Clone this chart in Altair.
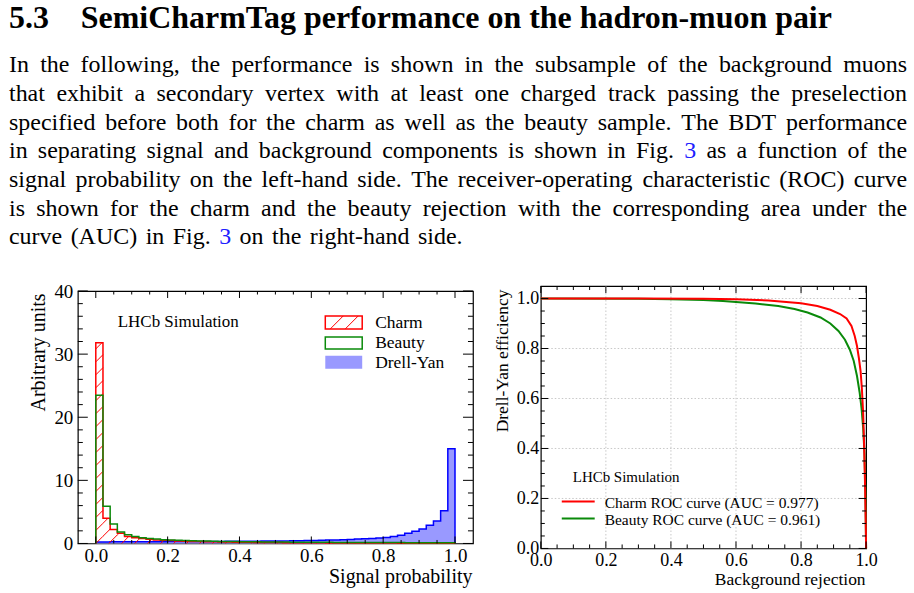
import math
import altair as alt
import pandas as pd

FONT = "Liberation Serif"

# ---------------- page text ----------------
HEADING_NUMBER = "5.3"
HEADING_TITLE = "SemiCharmTag performance on the hadron-muon pair"
BODY_LINES = [
    "In the following, the performance is shown in the subsample of the background muons",
    "that exhibit a secondary vertex with at least one charged track passing the preselection",
    "specified before both for the charm as well as the beauty sample. The BDT performance",
    "in separating signal and background components is shown in Fig. 3 as a function of the",
    "signal probability on the left-hand side. The receiver-operating characteristic (ROC) curve",
    "is shown for the charm and the beauty rejection with the corresponding area under the",
    "curve (AUC) in Fig. 3 on the right-hand side.",
]
FIGURE_REF = "3"

# ---------------- histogram (left panel) ----------------
BIN_LOW_EDGES = [0.00, 0.02, 0.04, 0.06, 0.08, 0.10, 0.12, 0.14, 0.16, 0.18,
                 0.20, 0.22, 0.24, 0.26, 0.28, 0.30, 0.32, 0.34, 0.36, 0.38,
                 0.40, 0.42, 0.44, 0.46, 0.48, 0.50, 0.52, 0.54, 0.56, 0.58,
                 0.60, 0.62, 0.64, 0.66, 0.68, 0.70, 0.72, 0.74, 0.76, 0.78,
                 0.80, 0.82, 0.84, 0.86, 0.88, 0.90, 0.92, 0.94, 0.96, 0.98]
BIN_WIDTH = 0.02
CHARM = [31.8, 4.0, 2.2, 1.6, 1.1, 0.9, 0.8, 0.65, 0.55, 0.5,
         0.45, 0.4, 0.35, 0.32, 0.3, 0.28, 0.26, 0.24, 0.22, 0.2,
         0.19, 0.18, 0.17, 0.16, 0.15, 0.14, 0.13, 0.12, 0.12, 0.11,
         0.1, 0.1, 0.09, 0.09, 0.08, 0.08, 0.07, 0.07, 0.07, 0.06,
         0.06, 0.06, 0.05, 0.05, 0.05, 0.05, 0.05, 0.05, 0.05, 0.05]
BEAUTY = [23.5, 5.9, 3.1, 1.8, 1.4, 1.1, 0.9, 0.8, 0.7, 0.6,
          0.55, 0.5, 0.45, 0.42, 0.4, 0.38, 0.35, 0.33, 0.31, 0.3,
          0.28, 0.27, 0.26, 0.25, 0.24, 0.23, 0.22, 0.21, 0.2, 0.2,
          0.19, 0.18, 0.18, 0.17, 0.17, 0.16, 0.16, 0.15, 0.15, 0.15,
          0.14, 0.14, 0.14, 0.13, 0.13, 0.13, 0.13, 0.12, 0.12, 0.12]
DRELL_YAN = [0.25, 0.25, 0.26, 0.26, 0.27, 0.27, 0.28, 0.28, 0.29, 0.29,
             0.3, 0.3, 0.31, 0.31, 0.32, 0.32, 0.33, 0.33, 0.34, 0.35,
             0.35, 0.36, 0.37, 0.38, 0.39, 0.4, 0.41, 0.43, 0.44, 0.46,
             0.48, 0.5, 0.53, 0.56, 0.6, 0.64, 0.69, 0.74, 0.8, 0.87,
             0.95, 1.1, 1.3, 1.6, 1.95, 2.3, 2.9, 3.55, 5.2, 15.0]
HIST_LEGEND = ["Charm", "Beauty", "Drell-Yan"]

# ---------------- ROC curves (right panel) ----------------
ROC_CHARM_X = [0.0, 0.3, 0.5, 0.6, 0.7, 0.8, 0.85, 0.89, 0.92, 0.94, 0.955, 0.965,
               0.972, 0.978, 0.983, 0.987, 0.991, 0.994, 0.997, 0.999, 1.0]
ROC_CHARM_Y = [1.0, 1.0, 0.999, 0.997, 0.992, 0.981, 0.97, 0.955, 0.938, 0.92, 0.89, 0.85,
               0.81, 0.76, 0.71, 0.64, 0.54, 0.41, 0.24, 0.09, 0.0]
ROC_BEAUTY_X = [0.0, 0.3, 0.4, 0.5, 0.56, 0.66, 0.73, 0.78, 0.82, 0.86, 0.89, 0.915,
                0.935, 0.95, 0.962, 0.972, 0.98, 0.986, 0.991, 0.995, 0.998, 1.0]
ROC_BEAUTY_Y = [1.0, 0.999, 0.997, 0.994, 0.99, 0.98, 0.97, 0.958, 0.944, 0.924, 0.9, 0.87,
                0.835, 0.795, 0.75, 0.69, 0.625, 0.56, 0.48, 0.38, 0.22, 0.0]
AUC_CHARM = 0.977
AUC_BEAUTY = 0.961

# ---------------- tick values ----------------
HIST_X_LABELS = [0.0, 0.2, 0.4, 0.6, 0.8, 1.0]
HIST_X_MINOR = [0.05, 0.1, 0.15, 0.25, 0.3, 0.35, 0.45, 0.5, 0.55, 0.65, 0.7, 0.75, 0.85, 0.9, 0.95]
HIST_Y_LABELS = [0, 10, 20, 30, 40]
HIST_Y_MINOR = [2, 4, 6, 8, 12, 14, 16, 18, 22, 24, 26, 28, 32, 34, 36, 38]
ROC_X_LABELS = [0.0, 0.2, 0.4, 0.6, 0.8, 1.0]
ROC_X_MINOR = [0.05, 0.1, 0.15, 0.25, 0.3, 0.35, 0.45, 0.5, 0.55, 0.65, 0.7, 0.75, 0.85, 0.9, 0.95]
ROC_Y_LABELS = [0.0, 0.2, 0.4, 0.6, 0.8, 1.0]
ROC_Y_MINOR = [0.05, 0.1, 0.15, 0.25, 0.3, 0.35, 0.45, 0.5, 0.55, 0.65, 0.7, 0.75, 0.85, 0.9, 0.95]
ROC_GRID_X = [0.2, 0.4, 0.6, 0.8]
ROC_GRID_Y = [0.2, 0.4, 0.6, 0.8, 1.0]

# ---------------- layout / style ----------------
PAGE_W, PAGE_H = 914, 593
L_X0, L_Y0, L_W, L_H = 77, 289, 396, 253
R_X0, R_Y0, R_W, R_H = 541, 284, 326, 263
GAP = R_X0 - (L_X0 + L_W)
HX_DOMAIN = [-0.05, 1.05]
HY_DOMAIN = [0, 40]
RX_DOMAIN = [0, 1]
RY_DOMAIN = [0, 1.05]
RED, GREEN, BLUE, BLUE_FILL = "#ff0000", "#0a8a0a", "#0000ff", "#9999ff"
LINK_BLUE = "#2020ff"
TEXT_LEFT, TEXT_RIGHT = 8, 908
HEAD_BASE, HEAD_SIZE, HEAD_TITLE_X = 25, 32, 80
BODY_SIZE = 24
BODY_FIRST_BASE, BODY_LEADING = 70, 28.7
LAST_LINE_GAP = 8.5
HATCH_STEP = 13.0

# approximate Times metrics (1/1000 em) used to spread words for justification
_W = {' ': 250, '(': 333, ')': 333, ',': 250, '-': 333, '.': 250, '=': 564}
_W.update({d: 500 for d in "0123456789"})
_W.update(dict(zip("ABCDEFGHIJKLMNOPQRSTUVWXYZ",
                   [722, 667, 667, 722, 611, 556, 722, 722, 333, 389, 722, 611, 889,
                    722, 722, 556, 722, 667, 556, 611, 722, 722, 944, 722, 722, 611])))
_W.update(dict(zip("abcdefghijklmnopqrstuvwxyz",
                   [444, 500, 444, 500, 444, 333, 500, 500, 278, 278, 500, 278, 778,
                    500, 500, 500, 500, 333, 389, 278, 500, 500, 722, 500, 500, 444])))


def word_width(w, size):
    return sum(_W.get(c, 500) for c in w) * size / 1000.0


def dummy():
    return pd.DataFrame({"d": [0]})


# ---------- body text rows (positions relative to the left plot) ----------
rows = []
for li, line in enumerate(BODY_LINES):
    base = BODY_FIRST_BASE + li * BODY_LEADING
    words = line.split(" ")
    widths = [word_width(w, BODY_SIZE) for w in words]
    justify = li < len(BODY_LINES) - 1
    gap = (TEXT_RIGHT - TEXT_LEFT - sum(widths)) / (len(words) - 1) if justify else LAST_LINE_GAP
    x = TEXT_LEFT
    for k, (w, wd) in enumerate(zip(words, widths)):
        last = justify and k == len(words) - 1
        rows.append({
            "word": w,
            "px": (TEXT_RIGHT if last else x) - L_X0,
            "py": base - L_Y0,
            "col": LINK_BLUE if w == FIGURE_REF else "black",
            "anchor": "end" if last else "start",
        })
        x += wd + gap
body_df = pd.DataFrame(rows)
head_df = pd.DataFrame({
    "word": [HEADING_NUMBER, HEADING_TITLE],
    "px": [TEXT_LEFT - L_X0, HEAD_TITLE_X - L_X0],
    "py": [HEAD_BASE - L_Y0, HEAD_BASE - L_Y0],
    "col": ["black", "black"],
})


def text_layer(df, align, size, weight="normal"):
    return alt.Chart(df).mark_text(align=align, baseline="alphabetic", font=FONT,
                                   fontSize=size, fontWeight=weight).encode(
        x=alt.X("px:Q", scale=None, axis=None),
        y=alt.Y("py:Q", scale=None, axis=None),
        text="word:N",
        color=alt.Color("col:N", scale=None, legend=None),
    )


def vtext(txt, x, y, size, align="left", color="black", baseline="middle"):
    return alt.Chart(dummy()).mark_text(text=txt, align=align, baseline=baseline, font=FONT,
                                        fontSize=size, color=color).encode(
        x=alt.value(x), y=alt.value(y))


def vrect(x, x2, y, y2, fill="transparent", stroke=None, sw=1.0, opacity=1.0):
    kw = {"fill": fill, "opacity": opacity}
    if stroke is not None:
        kw.update(stroke=stroke, strokeWidth=sw)
    return alt.Chart(dummy()).mark_rect(**kw).encode(
        x=alt.value(x), x2=alt.value(x2), y=alt.value(y), y2=alt.value(y2))


def vrule(x, x2, y, y2, color, sw=1.0):
    return alt.Chart(dummy()).mark_rule(color=color, strokeWidth=sw).encode(
        x=alt.value(x), x2=alt.value(x2), y=alt.value(y), y2=alt.value(y2))


def tick_layers(xenc, yenc, W, H, xmaj, xmin, ymaj, ymin, lx_maj, lx_min, ly_maj, ly_min):
    out = []
    for vals, ln in ((xmaj, lx_maj), (xmin, lx_min)):
        df = pd.DataFrame({"v": vals})
        out.append(alt.Chart(df).mark_rule(color="black", strokeWidth=1).encode(
            x=xenc("v"), y=alt.value(H), y2=alt.value(H - ln)))
        out.append(alt.Chart(df).mark_rule(color="black", strokeWidth=1).encode(
            x=xenc("v"), y=alt.value(0), y2=alt.value(ln)))
    for vals, ln in ((ymaj, ly_maj), (ymin, ly_min)):
        df = pd.DataFrame({"v": vals})
        out.append(alt.Chart(df).mark_rule(color="black", strokeWidth=1).encode(
            y=yenc("v"), x=alt.value(0), x2=alt.value(ln)))
        out.append(alt.Chart(df).mark_rule(color="black", strokeWidth=1).encode(
            y=yenc("v"), x=alt.value(W), x2=alt.value(W - ln)))
    return out


# ================= left panel =================
HX_AXIS = alt.Axis(values=HIST_X_LABELS, format=".1f", ticks=False, tickSize=0, domain=False, grid=False,
                   labelFont=FONT, labelFontSize=19, labelColor="black", labelPadding=3,
                   labelFlush=False, labelOverlap=False,
                   title="Signal probability", titleFont=FONT, titleFontSize=20, titleFontWeight="normal",
                   titleColor="black", titleAlign="right", titleBaseline="alphabetic",
                   titleX=L_W - 1, titleY=39)
HY_AXIS = alt.Axis(values=HIST_Y_LABELS, format="d", ticks=False, tickSize=0, domain=False, grid=False,
                   labelFont=FONT, labelFontSize=19, labelColor="black", labelPadding=5,
                   labelFlush=False, labelOverlap=False,
                   title="Arbitrary units", titleFont=FONT, titleFontSize=20, titleFontWeight="normal",
                   titleColor="black", titleAngle=270, titleAlign="right", titleBaseline="middle",
                   titleX=38 - L_X0, titleY=291 - L_Y0)
HX_SCALE = alt.Scale(domain=HX_DOMAIN, nice=False, zero=False)
HY_SCALE = alt.Scale(domain=HY_DOMAIN, nice=False, zero=False)


def hx(f):
    return alt.X(f"{f}:Q", scale=HX_SCALE, axis=HX_AXIS)


def hy(f):
    return alt.Y(f"{f}:Q", scale=HY_SCALE, axis=HY_AXIS)


def outline_df(values):
    end = BIN_LOW_EDGES[-1] + BIN_WIDTH
    xs = [BIN_LOW_EDGES[0]] + BIN_LOW_EDGES + [end, end]
    ys = [0.0] + list(values) + [values[-1], 0.0]
    return pd.DataFrame({"x": xs, "y": ys, "i": list(range(len(xs)))})


def area_df(values):
    end = BIN_LOW_EDGES[-1] + BIN_WIDTH
    return pd.DataFrame({"x": BIN_LOW_EDGES + [end], "y": list(values) + [values[-1]]})


def hatch_df(values):
    pxx = L_W / (HX_DOMAIN[1] - HX_DOMAIN[0])
    pxy = L_H / (HY_DOMAIN[1] - HY_DOMAIN[0])
    out = []
    for lo, v in zip(BIN_LOW_EDGES, values):
        X0, X1, Hp = lo * pxx, (lo + BIN_WIDTH) * pxx, v * pxy
        for k in range(math.floor(-X1 / HATCH_STEP), math.ceil((Hp - X0) / HATCH_STEP) + 1):
            b = k * HATCH_STEP
            xa, xb = max(X0, -b), min(X1, Hp - b)
            if xb - xa > 0.4:
                out.append({"x": xa / pxx, "y": (xa + b) / pxy, "x2": xb / pxx, "y2": (xb + b) / pxy})
    return pd.DataFrame(out)


def step_line(values, color):
    return alt.Chart(outline_df(values)).mark_line(interpolate="step-after", color=color,
                                                   strokeWidth=1.5).encode(
        x=hx("x"), y=hy("y"), order=alt.Order("i:Q"))


left_layers = [
    vrect(-L_X0, PAGE_W - L_X0, -L_Y0, PAGE_H - L_Y0, opacity=0),
    text_layer(head_df, "left", HEAD_SIZE, "bold"),
    text_layer(body_df[body_df["anchor"] == "start"], "left", BODY_SIZE),
    text_layer(body_df[body_df["anchor"] == "end"], "right", BODY_SIZE),
    alt.Chart(area_df(DRELL_YAN)).mark_area(interpolate="step-after", color=BLUE_FILL, opacity=1).encode(
        x=hx("x"), y=hy("y")),
    step_line(DRELL_YAN, BLUE),
    alt.Chart(hatch_df(CHARM)).mark_rule(color=RED, strokeWidth=1).encode(
        x=hx("x"), y=hy("y"), x2=alt.X2("x2:Q"), y2=alt.Y2("y2:Q")),
    step_line(CHARM, RED),
    step_line(BEAUTY, GREEN),
]
left_layers += tick_layers(hx, hy, L_W, L_H, HIST_X_LABELS, HIST_X_MINOR, HIST_Y_LABELS, HIST_Y_MINOR,
                           7, 3.5, 10, 5)
# annotation + legend (pixel layout inside the frame)
left_layers += [
    vtext("LHCb Simulation", 117 - L_X0, 320 - L_Y0, 17),
    vrect(325 - L_X0, 362 - L_X0, 314 - L_Y0, 327 - L_Y0, fill="white", stroke=RED, sw=1.5),
    vrule(330 - L_X0, 343 - L_X0, 327 - L_Y0, 314 - L_Y0, RED),
    vrule(345 - L_X0, 358 - L_X0, 327 - L_Y0, 314 - L_Y0, RED),
    vrect(325 - L_X0, 362 - L_X0, 335 - L_Y0, 347 - L_Y0, fill="white", stroke=GREEN, sw=1.5),
    vrect(325 - L_X0, 362 - L_X0, 354 - L_Y0, 367 - L_Y0, fill=BLUE_FILL),
    vtext(HIST_LEGEND[0], 375 - L_X0, 321 - L_Y0, 17.5),
    vtext(HIST_LEGEND[1], 375 - L_X0, 341 - L_Y0, 17.5),
    vtext(HIST_LEGEND[2], 375 - L_X0, 361 - L_Y0, 17.5),
]
left = alt.layer(*left_layers).properties(width=L_W, height=L_H)

# ================= right panel =================
RX_AXIS = alt.Axis(values=ROC_X_LABELS, format=".1f", ticks=False, tickSize=0, domain=False, grid=False,
                   labelFont=FONT, labelFontSize=18, labelColor="black", labelPadding=3,
                   labelFlush=False, labelOverlap=False,
                   title="Background rejection", titleFont=FONT, titleFontSize=17.5, titleFontWeight="normal",
                   titleColor="black", titleAlign="right", titleBaseline="alphabetic",
                   titleX=R_W - 1, titleY=36)
RY_AXIS = alt.Axis(values=ROC_Y_LABELS, format=".1f", ticks=False, tickSize=0, domain=False, grid=False,
                   labelFont=FONT, labelFontSize=18, labelColor="black", labelPadding=2,
                   labelFlush=False, labelOverlap=False,
                   title="Drell-Yan efficiency", titleFont=FONT, titleFontSize=17.5, titleFontWeight="normal",
                   titleColor="black", titleAngle=270, titleAlign="right", titleBaseline="middle",
                   titleX=503 - R_X0, titleY=287 - R_Y0)
RX_SCALE = alt.Scale(domain=RX_DOMAIN, nice=False, zero=False)
RY_SCALE = alt.Scale(domain=RY_DOMAIN, nice=False, zero=False)


def rx(f):
    return alt.X(f"{f}:Q", scale=RX_SCALE, axis=RX_AXIS)


def ry(f):
    return alt.Y(f"{f}:Q", scale=RY_SCALE, axis=RY_AXIS)


def roc_line(xs, ys, color):
    df = pd.DataFrame({"x": xs, "y": ys, "i": list(range(len(xs)))})
    return alt.Chart(df).mark_line(color=color, strokeWidth=2).encode(
        x=rx("x"), y=ry("y"), order=alt.Order("i:Q"))


GRID_STYLE = dict(color="#c8c8c8", strokeWidth=1, strokeDash=[1.5, 2])
right_layers = [
    alt.Chart(pd.DataFrame({"v": ROC_GRID_X})).mark_rule(**GRID_STYLE).encode(
        x=rx("v"), y=alt.value(0), y2=alt.value(R_H)),
    alt.Chart(pd.DataFrame({"v": ROC_GRID_Y})).mark_rule(**GRID_STYLE).encode(
        y=ry("v"), x=alt.value(0), x2=alt.value(R_W)),
    roc_line(ROC_BEAUTY_X, ROC_BEAUTY_Y, GREEN),
    roc_line(ROC_CHARM_X, ROC_CHARM_Y, RED),
]
right_layers += tick_layers(rx, ry, R_W, R_H, ROC_X_LABELS, ROC_X_MINOR, ROC_Y_LABELS, ROC_Y_MINOR,
                            7, 4, 7.5, 4)
right_layers += [
    vtext("LHCb Simulation", 573 - R_X0, 475 - R_Y0, 15),
    vrule(562 - R_X0, 595 - R_X0, 500 - R_Y0, 500 - R_Y0, RED, 2),
    vtext(f"Charm ROC curve (AUC = {AUC_CHARM:.3f})", 605 - R_X0, 501 - R_Y0, 15.5),
    vrule(562 - R_X0, 595 - R_X0, 517 - R_Y0, 517 - R_Y0, GREEN, 2),
    vtext(f"Beauty ROC curve (AUC = {AUC_BEAUTY:.3f})", 605 - R_X0, 518 - R_Y0, 15.5),
]
right = alt.layer(*right_layers).properties(width=R_W, height=R_H)

chart = (
    alt.hconcat(left, right, spacing=GAP, bounds="flush", center=True)
    .properties(padding=0)
    .configure(background="white", font=FONT)
    .configure_view(stroke="black", strokeWidth=1.2)
)

chart.save("out.html", embed_options={"renderer": "svg", "actions": False})
